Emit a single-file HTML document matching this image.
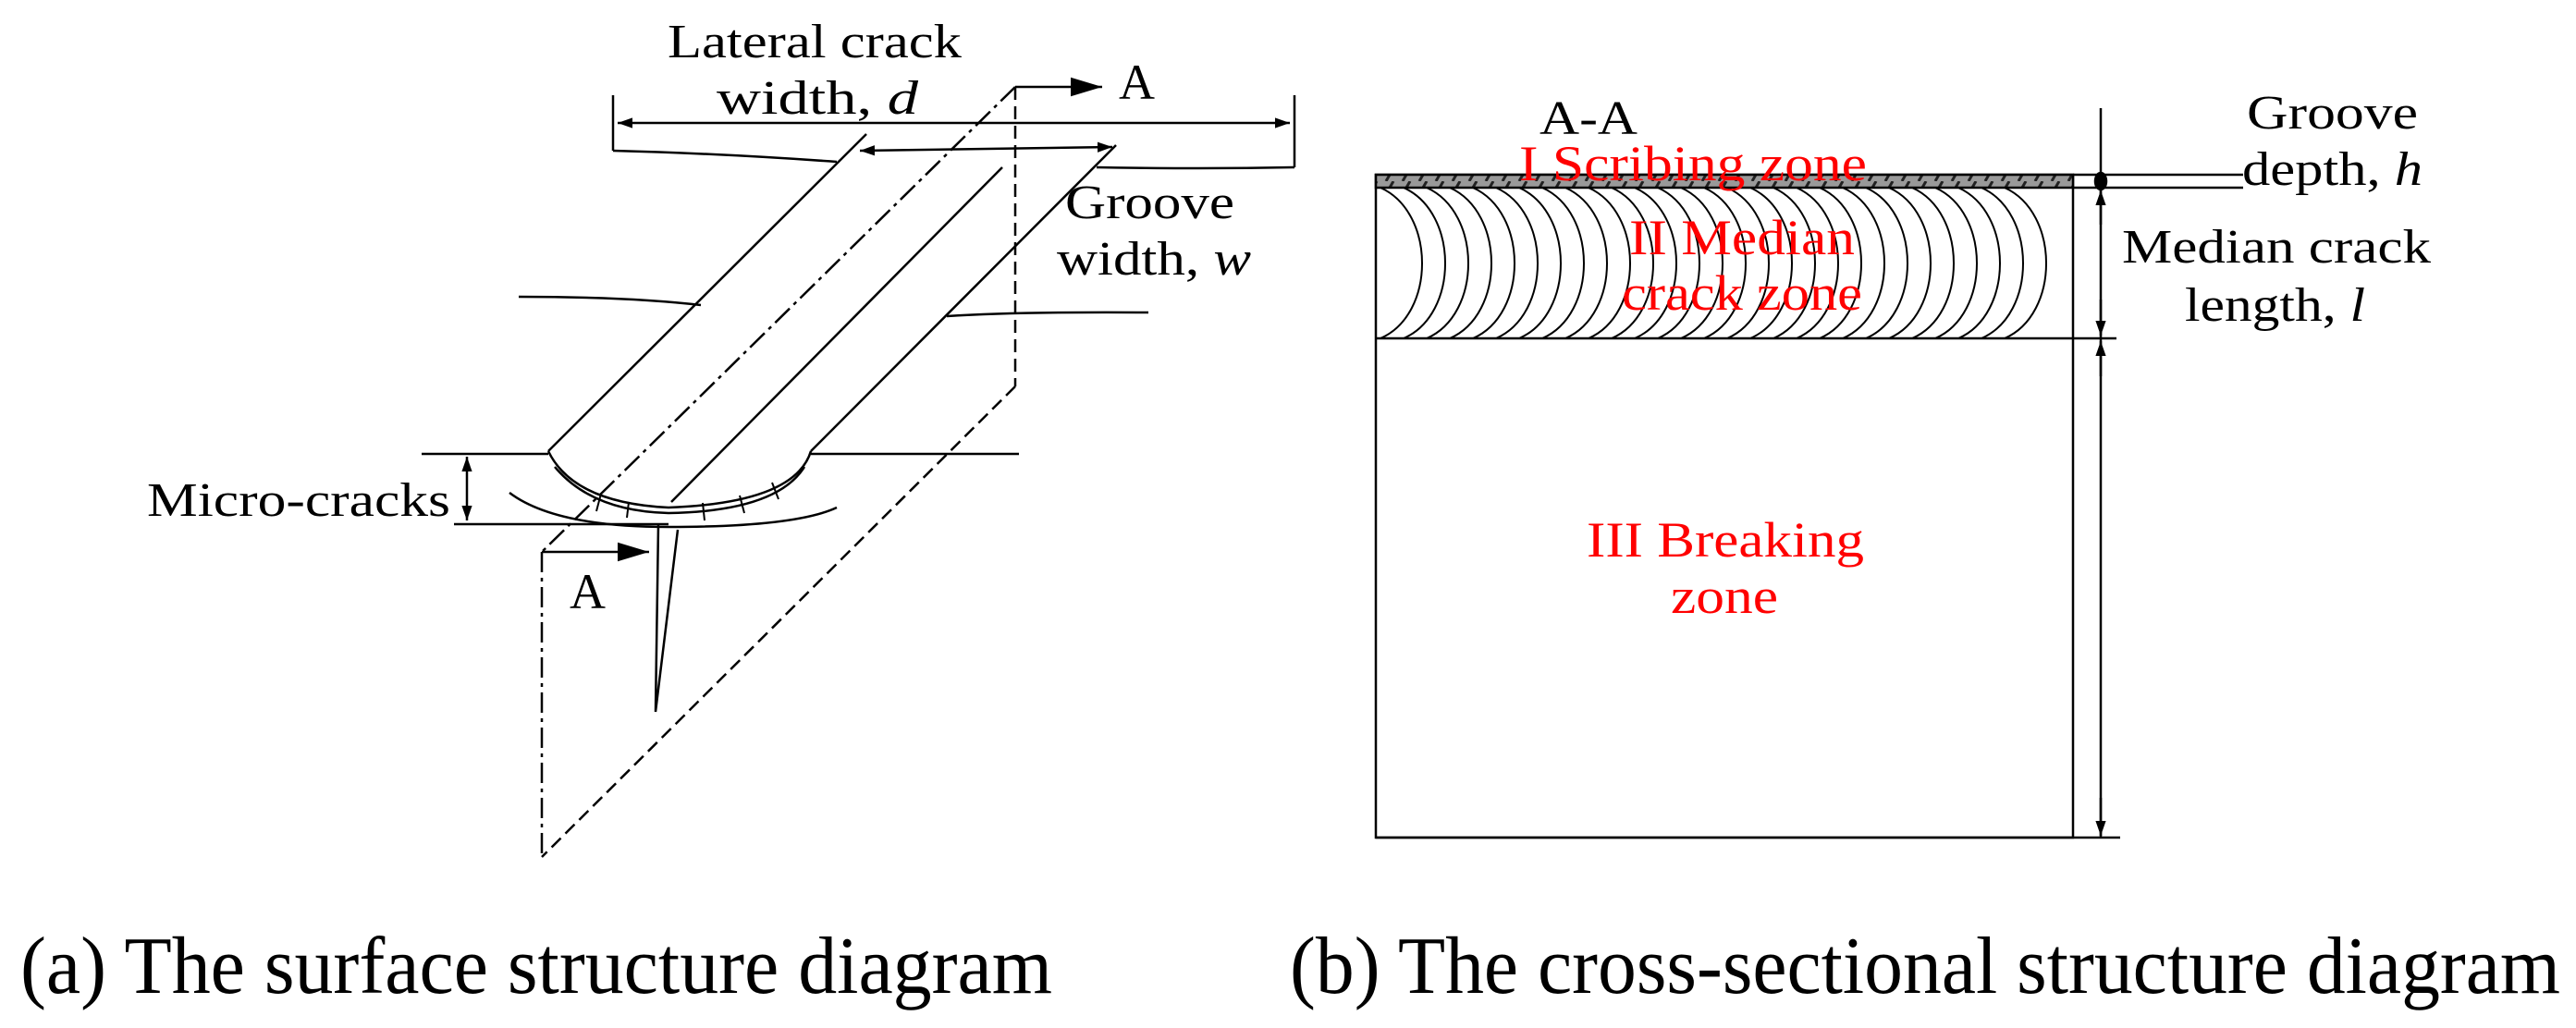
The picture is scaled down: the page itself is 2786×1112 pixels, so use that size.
<!DOCTYPE html>
<html><head><meta charset="utf-8"><style>html,body{margin:0;padding:0;background:#fff;overflow:hidden}svg{display:block}</style></head>
<body>
<svg width="2786" height="1112" viewBox="0 0 2786 1112" xmlns="http://www.w3.org/2000/svg" font-family="'Liberation Serif', serif">
<defs>
<marker id="ar" viewBox="0 0 10 10" refX="10" refY="5" markerWidth="16" markerHeight="16" markerUnits="userSpaceOnUse" orient="auto-start-reverse"><path d="M0,1.5 L10,5 L0,8.5 z" fill="#000"/></marker>
<marker id="ab" viewBox="0 0 10 10" refX="10" refY="5" markerWidth="34" markerHeight="34" markerUnits="userSpaceOnUse" orient="auto-start-reverse"><path d="M0,2 L10,5 L0,8 z" fill="#000"/></marker>
<pattern id="hatch" width="18" height="14" patternUnits="userSpaceOnUse"><rect width="18" height="14" fill="#999"/><line x1="5" y1="14" x2="13" y2="0" stroke="#222" stroke-width="3"/></pattern>
</defs>
<g stroke="#000" stroke-width="2.5" fill="none">
<!-- left diagram -->
<line x1="663" y1="103" x2="663" y2="163"/>
<line x1="1400" y1="103" x2="1400" y2="181"/>
<line x1="668" y1="133" x2="1395" y2="133" marker-start="url(#ar)" marker-end="url(#ar)"/>
<path d="M663,163 Q780,166 905,175"/>
<path d="M1186,181 Q1300,183 1400,181"/>
<line x1="930" y1="163" x2="1203" y2="159" marker-start="url(#ar)" marker-end="url(#ar)"/>
<line x1="937" y1="145" x2="593" y2="488"/>
<line x1="1207" y1="157" x2="877" y2="488"/>
<line x1="1084" y1="181" x2="726" y2="543"/>
<line x1="1098" y1="94" x2="586" y2="597" stroke-dasharray="22,6,4,6"/>
<line x1="1098" y1="94" x2="1192" y2="94" marker-end="url(#ab)"/>
<line x1="1098" y1="94" x2="1098" y2="418" stroke-dasharray="14,7"/>
<line x1="1098" y1="418" x2="586" y2="927" stroke-dasharray="14,7"/>
<line x1="586" y1="597" x2="586" y2="927" stroke-dasharray="22,6,4,6"/>
<line x1="586" y1="597" x2="702" y2="597" marker-end="url(#ab)"/>
<path d="M561,321 Q680,321 758,330"/>
<path d="M1024,342 Q1100,337 1242,338"/>
<line x1="456" y1="491" x2="593" y2="491"/>
<line x1="877" y1="491" x2="1102" y2="491"/>
<line x1="491" y1="567" x2="723" y2="567"/>
<line x1="505" y1="494" x2="505" y2="563" marker-start="url(#ar)" marker-end="url(#ar)"/>
<path d="M593,488 Q620,544 723,549 Q860,544 877,488"/>
<path d="M600,505 Q640,553 723,555 Q840,553 870,505"/>
<path d="M551,533 Q600,570 723,570 Q860,570 905,549"/>
<path d="M712,567 L709,770 L733,573"/>
<g stroke-width="2"><line x1="650" y1="534" x2="645" y2="553"/><line x1="680" y1="543" x2="678" y2="560"/><line x1="760" y1="544" x2="762" y2="563"/><line x1="800" y1="536" x2="805" y2="555"/><line x1="835" y1="522" x2="842" y2="540"/></g>
<!-- right diagram -->
<rect x="1488" y="189" width="754" height="717"/>
<rect x="1488" y="189" width="754" height="14" fill="url(#hatch)"/>
<line x1="1488" y1="366" x2="2289" y2="366"/>
<line x1="1488" y1="906" x2="2293" y2="906"/>
<line x1="2272" y1="117" x2="2272" y2="906"/>
<line x1="2242" y1="189" x2="2426" y2="189"/>
<line x1="2242" y1="203" x2="2426" y2="203"/>
<line x1="2272" y1="206" x2="2272" y2="243" marker-start="url(#ar)"/>
<line x1="2272" y1="324" x2="2272" y2="363" marker-end="url(#ar)"/>
<line x1="2272" y1="369" x2="2272" y2="407" marker-start="url(#ar)"/>
<line x1="2272" y1="863" x2="2272" y2="904" marker-end="url(#ar)"/>
<ellipse cx="2272" cy="196" rx="6" ry="9" fill="#000"/>
<g stroke-width="2">
<path d="M1493,203 C1553,230 1553,340 1493,366"/>
<path d="M1518,203 C1578,230 1578,340 1518,366"/>
<path d="M1543,203 C1603,230 1603,340 1543,366"/>
<path d="M1568,203 C1628,230 1628,340 1568,366"/>
<path d="M1593,203 C1653,230 1653,340 1593,366"/>
<path d="M1618,203 C1678,230 1678,340 1618,366"/>
<path d="M1643,203 C1703,230 1703,340 1643,366"/>
<path d="M1668,203 C1728,230 1728,340 1668,366"/>
<path d="M1693,203 C1753,230 1753,340 1693,366"/>
<path d="M1718,203 C1778,230 1778,340 1718,366"/>
<path d="M1743,203 C1803,230 1803,340 1743,366"/>
<path d="M1768,203 C1828,230 1828,340 1768,366"/>
<path d="M1793,203 C1853,230 1853,340 1793,366"/>
<path d="M1818,203 C1878,230 1878,340 1818,366"/>
<path d="M1843,203 C1903,230 1903,340 1843,366"/>
<path d="M1868,203 C1928,230 1928,340 1868,366"/>
<path d="M1893,203 C1953,230 1953,340 1893,366"/>
<path d="M1918,203 C1978,230 1978,340 1918,366"/>
<path d="M1943,203 C2003,230 2003,340 1943,366"/>
<path d="M1968,203 C2028,230 2028,340 1968,366"/>
<path d="M1993,203 C2053,230 2053,340 1993,366"/>
<path d="M2018,203 C2078,230 2078,340 2018,366"/>
<path d="M2043,203 C2103,230 2103,340 2043,366"/>
<path d="M2068,203 C2128,230 2128,340 2068,366"/>
<path d="M2093,203 C2153,230 2153,340 2093,366"/>
<path d="M2118,203 C2178,230 2178,340 2118,366"/>
<path d="M2143,203 C2203,230 2203,340 2143,366"/>
<path d="M2168,203 C2228,230 2228,340 2168,366"/>
</g>
</g>
<g font-size="52" fill="#000" lengthAdjust="spacingAndGlyphs">
<text x="722" y="62" textLength="318" lengthAdjust="spacingAndGlyphs">Lateral crack</text>
<text x="775" y="123" textLength="218" lengthAdjust="spacingAndGlyphs">width,  <tspan font-style="italic">d</tspan></text>
<text x="1152" y="236" textLength="183" lengthAdjust="spacingAndGlyphs">Groove</text>
<text x="1143" y="297" textLength="210" lengthAdjust="spacingAndGlyphs">width, <tspan font-style="italic">w</tspan></text>
<text x="1210" y="107" font-size="54">A</text>
<text x="616" y="658" font-size="54">A</text>
<text x="159" y="558" textLength="328" lengthAdjust="spacingAndGlyphs">Micro-cracks</text>
<text x="1665" y="145" textLength="106" lengthAdjust="spacingAndGlyphs">A-A</text>
<text x="2430" y="139" textLength="185" lengthAdjust="spacingAndGlyphs">Groove</text>
<text x="2425" y="200" textLength="195" lengthAdjust="spacingAndGlyphs">depth, <tspan font-style="italic">h</tspan></text>
<text x="2295" y="284" textLength="334" lengthAdjust="spacingAndGlyphs">Median crack</text>
<text x="2363" y="347" textLength="195" lengthAdjust="spacingAndGlyphs">length, <tspan font-style="italic">l</tspan></text>
</g>
<g font-size="54" fill="#ff0000">
<text x="1643" y="195" textLength="376" lengthAdjust="spacingAndGlyphs">I Scribing zone</text>
<text x="1762" y="275" textLength="244" lengthAdjust="spacingAndGlyphs">II Median</text>
<text x="1754" y="335" textLength="260" lengthAdjust="spacingAndGlyphs">crack zone</text>
<text x="1716" y="602" textLength="300" lengthAdjust="spacingAndGlyphs">III Breaking</text>
<text x="1807" y="663" textLength="116" lengthAdjust="spacingAndGlyphs">zone</text>
</g>
<g font-size="88" fill="#000">
<text x="22" y="1074" textLength="1116" lengthAdjust="spacingAndGlyphs">(a)  The surface structure diagram</text>
<text x="1395" y="1074" textLength="1374" lengthAdjust="spacingAndGlyphs">(b)  The cross-sectional structure diagram</text>
</g>
</svg>
</body></html>
